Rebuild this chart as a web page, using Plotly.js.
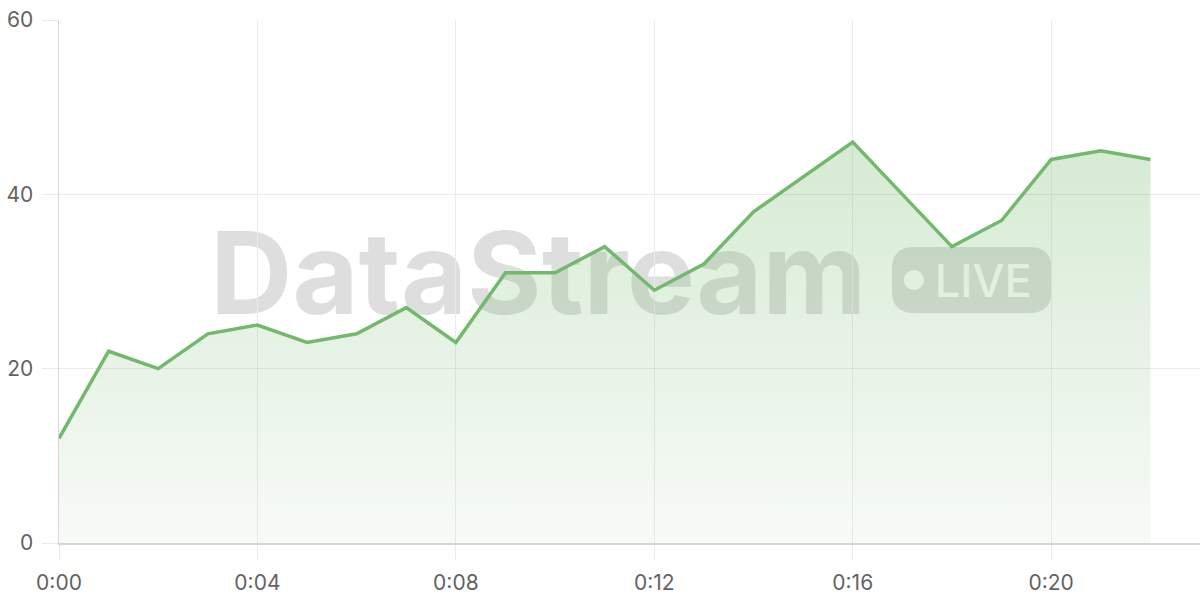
<!DOCTYPE html>
<html>
<head>
<meta charset="utf-8">
<script src="https://cdn.plot.ly/plotly-3.0.1.min.js"></script>
<style>
  html, body { margin: 0; padding: 0; background: #ffffff; }
  #chart { width: 1200px; height: 600px; }
</style>
</head>
<body>
<div id="chart"></div>
<script>
// ---- data ----
const minutes = [0,1,2,3,4,5,6,7,8,9,10,11,12,13,14,15,16,17,18,19,20,21,22];
const values  = [12,22,20,24,25,23,24,27,23,31,31,34,29,32,38,42,46,40,34,37,44,45,44];
const xTickVals   = [0,4,8,12,16,20];
const xTickLabels = ['0:00','0:04','0:08','0:12','0:16','0:20'];
const yTickVals   = [0,20,40,60];
const watermarkText = 'DataStream';
const badgeText = 'LIVE';

const lineColor = '#74b86f';
const gridColor = '#ebebeb';
const tickFont = { family: 'Inter, "Open Sans", sans-serif', size: 21, color: '#636363' };

const trace = {
  x: minutes,
  y: values,
  type: 'scatter',
  mode: 'lines',
  line: { color: lineColor, width: 3.5 },
  fill: 'tozeroy',
  fillgradient: {
    type: 'vertical',
    start: 0,
    stop: Math.max(...values),
    colorscale: [[0, 'rgba(118,185,110,0.06)'], [1, 'rgba(118,185,110,0.30)']]
  },
  hoverinfo: 'skip'
};

// helper: rounded rectangle path in paper coords
function roundedRect(x0, y0, x1, y1, rx, ry) {
  return `M ${x0+rx},${y1} L ${x1-rx},${y1} Q ${x1},${y1} ${x1},${y1-ry} ` +
         `L ${x1},${y0+ry} Q ${x1},${y0} ${x1-rx},${y0} ` +
         `L ${x0+rx},${y0} Q ${x0},${y0} ${x0},${y0+ry} ` +
         `L ${x0},${y1-ry} Q ${x0},${y1} ${x0+rx},${y1} Z`;
}

const shapes = [
  { // big watermark text
    type: 'rect', xref: 'paper', yref: 'paper', layer: 'between',
    x0: 0.10, x1: 0.74, y0: 0.425, y1: 0.625,
    line: { width: 0 }, fillcolor: 'rgba(0,0,0,0)',
    label: { text: watermarkText, textposition: 'middle center',
      font: { family: 'Inter, "Open Sans", sans-serif', size: 114, weight: 700, color: 'rgba(0,0,0,0.13)' } }
  },
  { // pill
    type: 'path', xref: 'paper', yref: 'paper', layer: 'between',
    path: roundedRect(0.730, 0.4398, 0.870, 0.566, 0.0193, 0.042),
    line: { width: 0 }, fillcolor: 'rgba(0,0,0,0.13)'
  },
  { // dot
    type: 'circle', xref: 'paper', yref: 'paper', layer: 'between',
    x0: 0.7493 - 0.0088, x1: 0.7493 + 0.0088, y0: 0.5029 - 0.0191, y1: 0.5029 + 0.0191,
    line: { width: 0 }, fillcolor: '#ffffff'
  },
  { // LIVE text
    type: 'rect', xref: 'paper', yref: 'paper', layer: 'between',
    x0: 0.78, x1: 0.84, y0: 0.45, y1: 0.556,
    line: { width: 0 }, fillcolor: 'rgba(0,0,0,0)',
    label: { text: badgeText, textposition: 'middle center',
      font: { family: 'Inter, "Open Sans", sans-serif', size: 45, weight: 500, color: '#ffffff' } }
  }
];

const layout = {
  width: 1200, height: 600,
  margin: { l: 59, r: 0, t: 20, b: 57 },
  paper_bgcolor: '#ffffff', plot_bgcolor: '#ffffff',
  showlegend: false,
  xaxis: {
    range: [0, 23], tickvals: xTickVals, ticktext: xTickLabels,
    showgrid: true, gridcolor: gridColor, gridwidth: 1,
    zeroline: false, showline: true, linecolor: '#d6d6d6', linewidth: 1.5,
    ticks: 'outside', ticklen: 15, tickcolor: gridColor, tickwidth: 1,
    tickfont: tickFont, ticklabelstandoff: 5, fixedrange: true
  },
  yaxis: {
    range: [0, 60], tickvals: yTickVals,
    showgrid: true, gridcolor: gridColor, gridwidth: 1,
    zeroline: false, showline: true, linecolor: '#d6d6d6', linewidth: 1.5,
    ticks: 'outside', ticklen: 16, tickcolor: gridColor, tickwidth: 1,
    tickfont: tickFont, ticklabelstandoff: 4, fixedrange: true
  },
  shapes: shapes
};

Plotly.newPlot('chart', [trace], layout, { displayModeBar: false, staticPlot: true });
</script>
</body>
</html>
